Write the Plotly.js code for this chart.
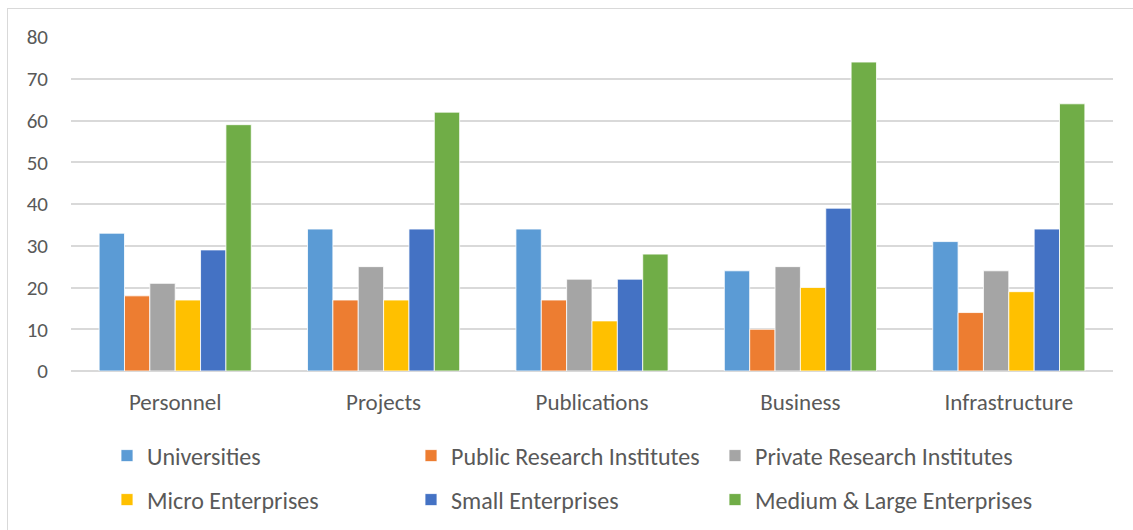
<!DOCTYPE html>
<html>
<head>
<meta charset="utf-8">
<script src="https://cdn.plot.ly/plotly-3.0.1.min.js"></script>
<style>
  html, body { margin: 0; padding: 0; background: #fff; overflow: hidden; }
  #chart { position: absolute; left: 0; top: 0; width: 1133px; height: 530px; }
  #frame { position: absolute; left: 7px; top: 8px; width: 1140px; height: 540px; border: 1px solid #d9d9d9; pointer-events: none; }
  #chart .scrollbox, #chart .legendtext, #chart .traces { clip-path: none !important; }
</style>
</head>
<body>
<div id="chart"></div>
<div id="frame"></div>
<script>
const categories = ["Personnel", "Projects", "Publications", "Business", "Infrastructure"];
const seriesNames = ["Universities", "Public Research Institutes", "Private Research Institutes",
                     "Micro Enterprises", "Small Enterprises", "Medium & Large Enterprises"];
const universities = [33, 34, 34, 24, 31];
const publicResearch = [18, 17, 17, 10, 14];
const privateResearch = [21, 25, 22, 25, 24];
const microEnterprises = [17, 17, 12, 20, 19];
const smallEnterprises = [29, 34, 22, 39, 34];
const mediumLargeEnterprises = [59, 62, 28, 74, 64];
const yTicks = [0, 10, 20, 30, 40, 50, 60, 70, 80];

const seriesValues = [universities, publicResearch, privateResearch, microEnterprises, smallEnterprises, mediumLargeEnterprises];
const colors = ["#5B9BD5", "#ED7D31", "#A5A5A5", "#FFC000", "#4472C4", "#70AD47"];
const fontFamily = "Carlito, Lato, 'Open Sans', sans-serif";

const traces = seriesValues.map((vals, i) => ({
  type: "bar",
  name: seriesNames[i],
  x: categories,
  y: vals,
  marker: { color: colors[i], line: { color: "#ffffff", width: 0.8 } },
  legend: i < 3 ? "legend" : "legend2",
  hoverinfo: "x+y+name"
}));

const legendCommon = {
  orientation: "h",
  xref: "container", yref: "container",
  xanchor: "left", yanchor: "middle",
  entrywidth: 259, entrywidthmode: "pixels",
  font: { family: fontFamily, size: 24, color: "#595959" },
  bgcolor: "rgba(0,0,0,0)",
  itemclick: false, itemdoubleclick: false
};

const layout = {
  width: 1133, height: 530,
  margin: { l: 71, r: 20, t: 37, b: 159 },
  paper_bgcolor: "#ffffff",
  plot_bgcolor: "#ffffff",
  barmode: "group",
  bargap: 0.27,
  bargroupgap: 0,
  font: { family: fontFamily, color: "#595959" },
  xaxis: {
    type: "category",
    tickfont: { family: fontFamily, size: 23, color: "#595959" },
    ticks: "",
    ticklabelstandoff: 15,
    showgrid: false,
    showline: false,
    zeroline: false
  },
  yaxis: {
    range: [0, 80],
    tickvals: yTicks,
    ticktext: yTicks.map(String),
    tickfont: { family: fontFamily, size: 21, color: "#595959" },
    ticks: "",
    ticklabelstandoff: 22,
    showgrid: true,
    gridcolor: "#d9d9d9",
    gridwidth: 1.5,
    zeroline: true,
    zerolinecolor: "#d9d9d9",
    zerolinewidth: 1.5,
    showline: false
  },
  legend: Object.assign({}, legendCommon, { x: 107 / 1133, y: 1 - 456 / 530 }),
  legend2: Object.assign({}, legendCommon, { x: 107 / 1133, y: 1 - 500 / 530 }),
  showlegend: true
};

Plotly.newPlot("chart", traces, layout, { displayModeBar: false, staticPlot: false }).then(gd => {
  gd.querySelectorAll(".scrollbox, .legendtext, .traces").forEach(el => {
    el.removeAttribute("clip-path");
    el.style.clipPath = "none";
  });
});
</script>
</body>
</html>
